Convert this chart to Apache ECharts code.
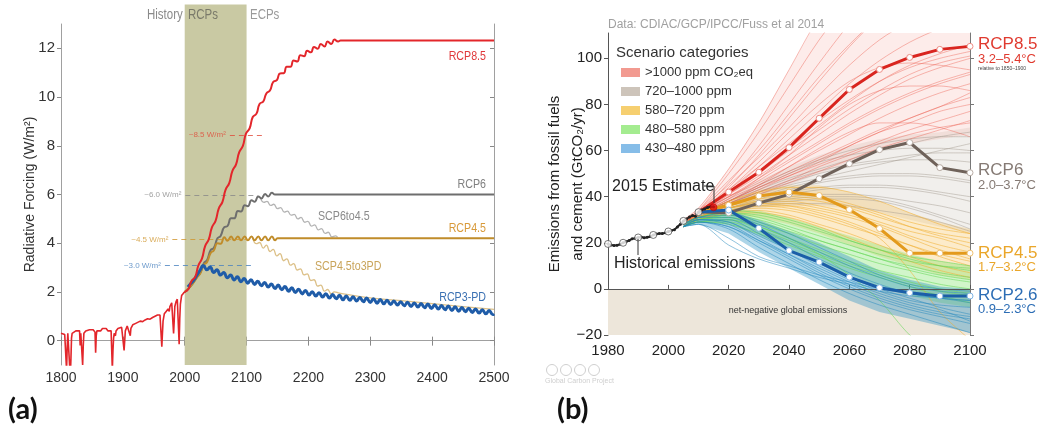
<!DOCTYPE html>
<html><head><meta charset="utf-8">
<script src="https://cdn.jsdelivr.net/npm/echarts@6/dist/echarts.min.js"></script>
<style>html,body{margin:0;padding:0;background:#fff}#c{width:1038px;height:428px}</style>
</head><body><div id="c"></div>
<script>
// ---------- Panel (a): radiative forcing ----------
const rcpPeriod = [2000, 2100];
const aYTicks = [0, 2, 4, 6, 8, 10, 12];
const rcp85Hist = [[1800,0.30],[1803,0.32],[1806,0.25],[1808,0.3],[1809,-1.2],[1810,-0.3],[1811,0.3],[1813,0.28],[1815,-1.5],[1816,-0.8],[1817,0.1],[1818,0.3],[1821,0.35],[1824,0.4],[1827,0.35],[1830,0.4],[1831,-0.2],[1832,0.3],[1834,0.35],[1835,-1.0],[1836,-0.2],[1837,0.3],[1840,0.4],[1843,0.35],[1846,0.45],[1849,0.4],[1852,0.45],[1855,0.35],[1856,-0.5],[1857,0.2],[1858,0.4],[1861,0.45],[1864,0.4],[1867,0.5],[1870,0.45],[1873,0.5],[1876,0.4],[1879,0.45],[1881,0.4],[1883,-1.2],[1884,-0.4],[1885,0.1],[1886,0.3],[1888,0.2],[1889,0.4],[1892,0.5],[1895,0.45],[1898,0.55],[1900,0.5],[1902,-0.4],[1903,0.0],[1904,0.4],[1907,0.6],[1910,0.55],[1912,0.2],[1913,0.5],[1916,0.65],[1920,0.7],[1924,0.75],[1928,0.8],[1932,0.78],[1936,0.85],[1940,0.9],[1944,0.88],[1948,0.95],[1952,1.0],[1956,1.05],[1960,1.05],[1962,1.0],[1963,-0.25],[1964,0.3],[1965,0.8],[1967,1.1],[1970,1.2],[1973,1.3],[1975,1.2],[1976,1.4],[1979,1.55],[1981,1.6],[1982,0.3],[1983,0.8],[1984,1.4],[1986,1.6],[1988,1.7],[1990,1.75],[1991,-0.15],[1992,0.9],[1993,1.5],[1995,1.85],[1998,1.95],[2000,2.0]];
const rcp85Future = [[2000,2.00],[2006,2.12],[2011,2.45],[2017,2.62],[2022,3.08],[2028,3.38],[2033,3.88],[2039,4.17],[2044,4.65],[2050,4.93],[2055,5.42],[2061,5.70],[2066,6.19],[2072,6.47],[2077,6.96],[2083,7.24],[2088,7.73],[2094,8.00],[2099,8.50],[2105,8.72],[2110,9.18],[2116,9.32],[2121,9.72],[2127,9.82],[2132,10.15],[2138,10.28],[2143,10.62],[2149,10.70],[2154,10.97],[2160,10.98],[2165,11.25],[2171,11.25],[2176,11.50],[2182,11.46],[2187,11.72],[2193,11.68],[2198,11.90],[2204,11.84],[2209,12.06],[2215,11.98],[2220,12.18],[2226,12.08],[2231,12.28],[2237,12.18],[2242,12.36],[2248,12.28],[2252,12.32],[2500,12.32]];
const rcp6 = [[2000,2.0],[2010,2.25],[2020,2.62],[2025,2.78],[2031,3.18],[2036,3.30],[2042,3.72],[2047,3.80],[2053,4.20],[2058,4.30],[2064,4.66],[2069,4.70],[2075,5.02],[2080,5.02],[2086,5.32],[2091,5.30],[2097,5.56],[2102,5.52],[2108,5.76],[2113,5.70],[2119,5.92],[2124,5.84],[2130,6.02],[2135,5.92],[2141,6.07],[2146,6.0],[2500,6.0]];
const scp6to45 = [[2122,5.90],[2128,5.68],[2133,5.72],[2139,5.55],[2144,5.60],[2150,5.42],[2155,5.46],[2161,5.28],[2166,5.32],[2172,5.15],[2177,5.18],[2183,5.00],[2188,5.06],[2194,4.86],[2199,4.90],[2205,4.70],[2210,4.75],[2216,4.55],[2221,4.60],[2227,4.40],[2232,4.45],[2238,4.26],[2244,4.30],[2247,4.24]];
const rcp45 = [[2000,2.0],[2010,2.25],[2020,2.6],[2025,2.76],[2031,3.12],[2036,3.22],[2042,3.60],[2047,3.70],[2053,4.0],[2058,3.98],[2064,4.25],[2069,4.10],[2075,4.28],[2080,4.12],[2086,4.28],[2091,4.12],[2097,4.28],[2102,4.12],[2108,4.28],[2113,4.12],[2119,4.28],[2124,4.12],[2130,4.28],[2135,4.12],[2141,4.28],[2146,4.12],[2150,4.2],[2500,4.2]];
const scp45to3pd = [[2110,4.20],[2116,3.98],[2121,4.03],[2127,3.80],[2132,3.92],[2138,3.66],[2143,3.75],[2149,3.48],[2154,3.57],[2160,3.28],[2165,3.36],[2171,3.10],[2176,3.16],[2182,2.90],[2187,2.95],[2193,2.70],[2198,2.74],[2204,2.47],[2209,2.50],[2215,2.24],[2220,2.28],[2226,2.03],[2231,2.10],[2237,1.92],[2242,2.00],[2250,1.95],[2300,1.76],[2350,1.64],[2400,1.52],[2450,1.40],[2500,1.28]];
const rcp3pd = [[2005,2.2],[2010,2.35],[2015,2.5],[2020,2.7],[2025,2.9],[2030,3.08],[2036,2.91],[2041,3.02],[2047,2.80],[2052,2.91],[2058,2.69],[2063,2.80],[2069,2.58],[2074,2.69],[2080,2.49],[2085,2.62],[2091,2.42],[2096,2.55],[2102,2.36],[2107,2.50],[2113,2.31],[2118,2.44],[2124,2.25],[2129,2.39],[2135,2.20],[2140,2.33],[2146,2.14],[2151,2.28],[2157,2.09],[2162,2.22],[2168,2.03],[2173,2.17],[2179,1.98],[2184,2.11],[2190,1.92],[2195,2.06],[2201,1.87],[2206,2.01],[2212,1.83],[2217,1.97],[2223,1.79],[2228,1.93],[2234,1.75],[2239,1.89],[2245,1.72],[2250,1.86],[2256,1.68],[2261,1.83],[2267,1.66],[2272,1.80],[2278,1.63],[2283,1.77],[2289,1.60],[2294,1.75],[2300,1.57],[2305,1.72],[2311,1.54],[2316,1.69],[2322,1.51],[2327,1.66],[2333,1.48],[2338,1.63],[2344,1.46],[2349,1.60],[2355,1.43],[2360,1.58],[2366,1.40],[2371,1.55],[2377,1.38],[2382,1.52],[2388,1.35],[2393,1.50],[2399,1.32],[2404,1.47],[2410,1.30],[2415,1.44],[2421,1.27],[2426,1.42],[2432,1.24],[2437,1.39],[2443,1.21],[2448,1.36],[2454,1.19],[2459,1.33],[2465,1.16],[2470,1.30],[2476,1.13],[2481,1.27],[2487,1.10],[2492,1.24],[2498,1.07],[2500,1.10]];
// dashed reference levels: [label, value, fromYear, toYear, colour]
const refLevels = [['~8.5 W/m²',8.45,2073,2127,'#e04a3a'],['~6.0 W/m²',5.97,2001,2118,'#888888'],['~4.5 W/m²',4.15,1980,2105,'#d0962e'],['~3.0 W/m²',3.08,1968,2110,'#4a82bf']];

// ---------- Panel (b): emissions ----------
const bYTicks = [-20, 0, 20, 40, 60, 80, 100];
const histYears = [1980,1981,1982,1983,1984,1985,1986,1987,1988,1989,1990,1991,1992,1993,1994,1995,1996,1997,1998,1999,2000,2001,2002,2003,2004,2005,2006,2007,2008,2009,2010,2011,2012,2013,2014,2015];
const histValues = [19.5,19.0,18.8,18.9,19.4,20.0,20.5,21.0,21.7,22.0,22.3,22.5,22.2,22.4,22.7,23.4,23.8,24.0,24.0,24.3,24.9,25.3,25.7,26.9,28.0,29.5,30.3,31.2,31.8,31.5,33.3,34.2,34.7,35.3,35.6,35.6];
const histMarkerYears = [1980,1985,1990,1995,2000,2005,2010];
const estimate2015 = [2015, 35.4];
const rcpYears = [2010,2020,2030,2040,2050,2060,2070,2080,2090,2100];
const bRcp85 = [33.3,42,50.6,61.3,74,86.5,95.2,100.4,103.9,105.2];
const bRcp6  = [33.3,33,37.2,41,47.8,54.3,60.4,63.5,52.6,50.4];
const bRcp45 = [33.3,36.3,40.3,42,40.5,34.4,26.2,15.5,15.5,15.5];
const bRcp26 = [33.3,34.2,26.3,16.6,11.6,5.1,0.5,-1.7,-3.1,-3.1];
const ensYears = [2005,2010,2020,2030,2040,2050,2060,2070,2080,2090,2100];
const redLines = [
 [29,34,50,68,88,108,125,140,150,158,165],[29,33,46,62,80,98,115,130,142,150,155],[28,33,44,58,74,90,105,118,128,135,140],
 [29,34,45,57,70,84,97,108,116,122,126],[28,32,42,53,65,77,89,99,107,113,118],[29,33,42,51,61,71,81,90,97,102,106],
 [28,33,41,49,58,67,76,84,91,96,100],[28,32,40,47,55,63,71,78,84,89,93],[29,33,40,46,53,60,67,74,80,85,89],
 [28,32,39,45,51,57,63,69,74,79,83],[28,32,38,44,50,56,62,68,74,79,85],[27,31,37,43,49,54,59,64,69,73,77],
 [28,32,38,45,53,61,68,72,72,70,66],[28,32,37,42,47,53,58,63,67,70,72],[28,32,39,48,58,70,80,86,88,88,86],
 [29,33,43,55,68,80,90,96,98,97,95],[28,32,38,44,49,55,62,68,72,77,80],[27,31,36,41,46,51,56,61,65,69,73],
 [28,33,40,48,56,64,72,79,85,90,94],[29,34,47,60,76,92,106,118,126,132,136],[30,35,52,72,95,118,135,150,160,165,170],
 [28,33,43,53,63,73,82,90,96,100,103],[28,32,41,50,60,69,78,86,93,98,101]];
const grayLines = [
 [28,32,38,44,50,55,58,60,61,61,60],[28,32,37,42,46,50,53,55,56,56,55],[28,31,36,40,44,47,49,50,50,49,47],
 [27,31,35,39,42,44,45,45,44,42,40],[28,32,37,41,45,48,51,54,57,60,63],[28,32,38,43,48,52,56,60,63,66,68],
 [27,31,35,38,40,41,41,40,38,36,33],[28,31,35,38,41,43,44,44,43,41,38],[28,32,36,40,43,46,48,49,49,48,46],
 [27,31,34,37,39,40,40,39,36,32,28],[28,32,37,42,47,51,54,56,58,59,59],[28,31,35,37,38,39,39,38,35,31,26],
 [28,32,38,45,51,56,60,63,65,66,66],[27,31,34,36,37,37,36,34,32,29,25]];
const orangeLines = [
 [28,32,38,42,44,44,42,38,33,28,24],[28,31,36,39,40,39,36,32,27,23,20],[27,31,35,37,37,35,32,28,23,19,16],
 [28,32,36,38,38,36,33,29,25,22,18],[27,30,34,35,34,31,27,23,19,15,12],[28,31,35,37,36,33,29,24,19,14,10],
 [27,30,33,34,32,28,24,19,14,10,7],[28,31,35,36,35,32,28,22,8,-10,-22],[28,32,37,40,41,40,37,33,29,26,24],
 [27,30,33,33,31,27,22,17,12,8,5],[27,31,35,38,39,38,35,31,27,24,22],[28,31,34,36,36,34,31,27,22,17,13]];
const greenLines = [
 [28,31,34,33,30,26,21,17,13,10,8],[28,30,32,30,26,21,17,13,10,7,5],[27,30,31,28,24,19,15,11,8,5,3],
 [27,29,30,27,22,17,12,8,5,2,0],[28,31,33,31,27,23,19,15,12,10,9],[27,29,29,25,20,15,10,6,2,-1,-3],
 [27,29,28,24,19,14,9,5,1,-3,-6],[28,30,31,27,22,15,6,-5,-20,-30,-35],[27,30,32,29,25,21,17,13,9,6,4],
 [28,31,33,32,29,25,21,17,14,12,10],[27,29,30,26,21,16,11,7,3,0,-2]];
const blueLines = [
 [28,31,32,28,22,16,10,5,1,-1,-2],[28,31,31,26,20,13,7,2,-2,-4,-5],[27,30,30,24,17,10,4,-1,-5,-7,-8],
 [27,30,29,22,15,8,2,-3,-7,-10,-12],[27,29,27,20,13,6,0,-5,-9,-12,-15],[27,29,26,18,11,4,-2,-7,-11,-15,-19],
 [28,31,33,29,24,18,12,6,2,0,-1],[27,30,28,21,14,7,1,-4,-8,-11,-13],[27,28,22,14,10,6,3,0,-2,-4,-5],
 [27,28,19,13,9,5,2,-1,-3,-4,-6],[28,30,29,23,17,11,5,0,-4,-8,-11],[27,29,27,21,15,9,3,-2,-6,-9,-14]];
const bandRed    = {lo:[27,31,36,40,45,50,55,60,63,65,67], hi:[30,35,52,72,95,118,135,150,160,165,170]};
const bandGray   = {lo:[27,30,33,35,36,36,35,33,30,27,24], hi:[29,33,40,47,53,58,62,65,67,68,70]};
const bandOrange = {lo:[27,30,32,31,28,24,19,14,10,6,4], hi:[29,33,38,43,45,45,42,38,33,29,26]};
const bandGreen  = {lo:[27,29,28,23,17,11,6,1,-3,-6,-8], hi:[29,32,35,34,31,27,23,19,15,12,10]};
const bandBlue   = {lo:[27,28,24,16,9,2,-5,-10,-13,-16,-19], hi:[29,32,34,30,25,20,14,8,4,1,0]};
const catNames = ['>1000 ppm CO₂eq','720–1000 ppm','580–720 ppm','480–580 ppm','430–480 ppm'];

const SANS = '"Liberation Sans",Arial,sans-serif';
const NARROW = SANS;

const chart = echarts.init(document.getElementById('c'), null, {renderer:'canvas'});
const pair = (xs, ys) => xs.map((x,i)=>[x, ys[i]]);
const plain = v => String(v);

const series = [];
// Panel a: RCP band (extends above plot)
series.push({type:'custom', xAxisIndex:0, yAxisIndex:0, z:1, silent:true, clip:false,
  data:[[rcpPeriod[0], rcpPeriod[1]]],
  renderItem(params, api){
    const p1 = api.coord([rcpPeriod[0], 13.8]);
    const p2 = api.coord([rcpPeriod[1], -1]);
    return {type:'rect', shape:{x:p1[0], y:p1[1], width:p2[0]-p1[0], height:p2[1]-p1[1]}, style:{fill:'#c9c9a3'}};
  }});
function aLine(data, color, width, smooth, z, extra){
  return Object.assign({type:'line', xAxisIndex:0, yAxisIndex:0, data, symbol:'none', smooth, z, silent:true,
    lineStyle:{color, width}, itemStyle:{color}}, extra||{});
}
function refLine(r){
  return {silent:true, symbol:'none', animation:false,
    lineStyle:{type:[5,4], color:r[4], width:1, opacity:0.8},
    label:{show:true, position:'start', formatter:r[0], color:r[4], fontSize:8, fontFamily:NARROW, distance:4},
    data:[[{coord:[r[2], r[1]]},{coord:[r[3], r[1]]}]]};
}
series.push(aLine(scp6to45, '#b4b4b4', 1.3, 0.5, 3));
series.push(aLine(scp45to3pd, '#dcc088', 1.3, 0.5, 3));
series.push(aLine(rcp6, '#6e6e6e', 2, 0.5, 4, {markLine:refLine(refLevels[1])}));
series.push(aLine(rcp45, '#c08c2a', 2, 0.5, 4, {markLine:refLine(refLevels[2])}));
series.push(aLine(rcp3pd, '#1f5ca8', 3, 0.5, 5, {markLine:refLine(refLevels[3])}));
series.push(aLine(rcp85Hist, '#e3262b', 1.6, false, 6));
series.push(aLine(rcp85Future, '#e3262b', 2, 0.5, 6, {markLine:refLine(refLevels[0])}));

// Panel b
series.push({type:'line', xAxisIndex:2, yAxisIndex:2, data:[], silent:true,
  markArea:{silent:true, itemStyle:{color:'#ede6da'}, data:[[{yAxis:-20},{yAxis:0}]]},
  markLine:{silent:true, symbol:'none', lineStyle:{color:'#555', width:1, type:'solid'}, label:{show:false}, data:[{yAxis:0}]}});
function band(name, b, color){
  return {type:'custom', name, xAxisIndex:2, yAxisIndex:2, z:1, silent:true, clip:true,
    itemStyle:{color}, data:[[ensYears[0], b.lo[0]]],
    renderItem(params, api){
      const pts=[];
      for(let i=0;i<ensYears.length;i++) pts.push(api.coord([ensYears[i], b.hi[i]]));
      for(let i=ensYears.length-1;i>=0;i--) pts.push(api.coord([ensYears[i], b.lo[i]]));
      return {type:'polygon', shape:{points:pts}, style:{fill:color}};
    }};
}
series.push(band(catNames[1], bandGray, 'rgba(190,180,170,0.22)'));
series.push(band(catNames[0], bandRed, 'rgba(240,120,105,0.14)'));
series.push(band(catNames[2], bandOrange, 'rgba(245,190,80,0.30)'));
series.push(band(catNames[3], bandGreen, 'rgba(120,225,100,0.34)'));
series.push(band(catNames[4], bandBlue, 'rgba(40,145,195,0.38)'));
function ens(lines, color, z){
  lines.forEach(v=>series.push({type:'line', xAxisIndex:2, yAxisIndex:2, z, silent:true, symbol:'none', smooth:0.3,
    data:pair(ensYears, v), lineStyle:{color, width:1}}));
}
ens(grayLines, 'rgba(160,150,140,0.45)', 2);
ens(redLines, 'rgba(235,85,70,0.40)', 2);
ens(orangeLines, 'rgba(240,175,50,0.55)', 2);
ens(greenLines, 'rgba(100,215,85,0.55)', 2);
ens(blueLines, 'rgba(35,135,190,0.50)', 2);
function rcpB(vals, color, border){
  const d = pair(rcpYears, vals).map((p,i)=> i===0 ? {value:p, symbol:'none'} : {value:p});
  return {type:'line', xAxisIndex:2, yAxisIndex:2, z:6, silent:true, data:d, symbol:'circle', symbolSize:6, showSymbol:true,
    lineStyle:{color, width:3}, itemStyle:{color:'#fff', borderColor:border, borderWidth:1}};
}
series.push(rcpB(bRcp6, '#6f625a', '#b8aca4'));
series.push(rcpB(bRcp45, '#e39a1c', '#eec070'));
series.push(rcpB(bRcp26, '#1b5ea8', '#7fb4e4'));
series.push(rcpB(bRcp85, '#d9251f', '#ee8c84'));
series.push({type:'line', xAxisIndex:2, yAxisIndex:2, z:7, silent:true, data:pair(histYears, histValues),
  symbol:'circle', symbolSize:3, lineStyle:{color:'#222', width:2}, itemStyle:{color:'#222'}});
series.push({type:'scatter', xAxisIndex:2, yAxisIndex:2, z:8, silent:true,
  data:histMarkerYears.map(y=>[y, histValues[histYears.indexOf(y)]]), symbolSize:7,
  itemStyle:{color:'#fff', borderColor:'#555', borderWidth:1}});
series.push({type:'scatter', xAxisIndex:2, yAxisIndex:2, z:8, silent:true, data:[estimate2015], symbolSize:7,
  itemStyle:{color:'#e01010', borderColor:'#a00', borderWidth:0.5}});

const axA = {min:1800, max:2500, interval:100};
const txt = (x,y,text,o,extra)=>Object.assign({type:'text', x, y, z:100, silent:true, style:Object.assign({text, fill:'#333', font:'13px '+SANS, textVerticalAlign:'middle'}, o||{})}, extra||{});
const narrowTxt = (x,y,text,o)=>txt(x,y,text,o,{scaleX:0.82});
const ccIcon = cx => ({type:'circle', silent:true, z:100, shape:{cx, cy:370, r:5.5}, style:{fill:null, stroke:'#cfcfcf', lineWidth:1}});

chart.setOption({
  animation:false,
  grid:[{left:61, right:544, top:24, bottom:63, show:false},{left:608, right:68, top:33, bottom:93, show:false}],
  xAxis:[
    Object.assign({type:'value', gridIndex:0, position:'bottom', axisLine:{lineStyle:{color:'#a0a0a0'}}, axisTick:{inside:true, length:4, lineStyle:{color:'#888'}},
      axisLabel:{color:'#333', fontSize:14, fontFamily:NARROW, margin:6, formatter:plain}, splitLine:{show:false}}, axA),
    Object.assign({type:'value', gridIndex:0, position:'top', axisLine:{lineStyle:{color:'#a0a0a0'}}, axisTick:{inside:true, length:5, lineStyle:{color:'#888'}},
      axisLabel:{show:false}, splitLine:{show:false}}, axA),
    {type:'value', gridIndex:1, position:'bottom', min:1980, max:2100, interval:20, axisLine:{lineStyle:{color:'#555'}},
      axisTick:{inside:true, length:4, lineStyle:{color:'#555'}}, axisLabel:{color:'#222', fontSize:15, fontFamily:SANS, margin:8, formatter:plain}, splitLine:{show:false}},
    {type:'value', gridIndex:1, position:'top', min:1980, max:2100, interval:20, axisLine:{lineStyle:{color:'#777'}},
      axisTick:{inside:true, length:4, lineStyle:{color:'#777'}}, axisLabel:{show:false}, splitLine:{show:false}}
  ],
  yAxis:[
    {type:'value', gridIndex:0, min:-1, max:13, axisLine:{show:true, lineStyle:{color:'#a0a0a0'}},
      axisTick:{show:true, length:4, customValues:aYTicks, lineStyle:{color:'#888'}},
      axisLabel:{customValues:aYTicks, color:'#333', fontSize:15, fontFamily:NARROW, margin:6, formatter:plain}, splitLine:{show:false},
      name:'Radiative Forcing (W/m²)', nameLocation:'middle', nameGap:24, nameRotate:90, nameMoveOverlap:false,
      nameTextStyle:{color:'#333', fontSize:14, fontFamily:NARROW}},
    {type:'value', gridIndex:0, position:'right', min:-1, max:13, axisLine:{show:true, lineStyle:{color:'#a0a0a0'}},
      axisTick:{show:true, inside:true, length:4, customValues:aYTicks, lineStyle:{color:'#888'}},
      axisLabel:{show:false, customValues:aYTicks}, splitLine:{show:false}},
    {type:'value', gridIndex:1, min:-20, max:111, axisLine:{show:true, lineStyle:{color:'#555'}},
      axisTick:{show:true, length:4, customValues:bYTicks, lineStyle:{color:'#555'}},
      axisLabel:{customValues:bYTicks, color:'#222', fontSize:15, fontFamily:SANS, margin:6, formatter:v=>String(v).replace('-','−')}, splitLine:{show:false},
      name:'Emissions from fossil fuels\nand cement (GtCO₂/yr)', nameLocation:'middle', nameGap:19, nameRotate:90, nameMoveOverlap:false,
      nameTextStyle:{color:'#222', fontSize:15, fontFamily:SANS, lineHeight:23}},
    {type:'value', gridIndex:1, position:'right', min:-20, max:111, axisLine:{show:true, lineStyle:{color:'#777'}},
      axisTick:{show:true, length:4, customValues:bYTicks, lineStyle:{color:'#777'}},
      axisLabel:{show:false, customValues:bYTicks}, splitLine:{show:false}}
  ],
  legend:{show:true, left:616, top:61, orient:'vertical', itemWidth:19, itemHeight:9, itemGap:6, selectedMode:false,
    icon:'rect', textStyle:{color:'#333', fontSize:13, fontFamily:SANS, lineHeight:10},
    data:[
      {name:catNames[0], itemStyle:{color:'#f29a90'}},
      {name:catNames[1], itemStyle:{color:'#cdc4ba'}},
      {name:catNames[2], itemStyle:{color:'#f6cf70'}},
      {name:catNames[3], itemStyle:{color:'#a4ec90'}},
      {name:catNames[4], itemStyle:{color:'#86bde8'}}]},
  series,
  graphic:[
    narrowTxt(147,15,'History',{fill:'#8a8a8a', font:'14px '+SANS}),
    narrowTxt(188,15,'RCPs',{fill:'#7a7a6a', font:'14px '+SANS}),
    narrowTxt(250,15,'ECPs',{fill:'#9a9a9a', font:'14px '+SANS}),
    narrowTxt(486,56,'RCP8.5',{fill:'#e0383a', font:'13px '+SANS, textAlign:'right'}),
    narrowTxt(486,184,'RCP6',{fill:'#808080', font:'13px '+SANS, textAlign:'right'}),
    narrowTxt(486,228,'RCP4.5',{fill:'#d89a3a', font:'13px '+SANS, textAlign:'right'}),
    narrowTxt(486,297,'RCP3-PD',{fill:'#3a70b2', font:'13px '+SANS, textAlign:'right'}),
    narrowTxt(318,216,'SCP6to4.5',{fill:'#8a8a8a', font:'13px '+SANS}),
    narrowTxt(315,266,'SCP4.5to3PD',{fill:'#c9a45a', font:'13px '+SANS}),
    txt(8,410,'(a)',{fill:'#111', font:'bold 29px Lato, "Open Sans", sans-serif'}),
    txt(557,410,'(b)',{fill:'#111', font:'bold 29px Lato, "Open Sans", sans-serif'}),
    txt(608,25,'Data: CDIAC/GCP/IPCC/Fuss et al 2014',{fill:'#a0a0a0', font:'12px '+SANS}),
    txt(616,53,'Scenario categories',{fill:'#333', font:'15px '+SANS}),
    txt(612,187,'2015 Estimate',{fill:'#222', font:'16px '+SANS}),
    txt(614,264,'Historical emissions',{fill:'#222', font:'16px '+SANS}),
    {type:'polyline', silent:true, z:100, shape:{points:[[704,186],[714,186],[714,203]]}, style:{stroke:'#333', lineWidth:1, fill:null}},
    {type:'line', silent:true, z:100, shape:{x1:638, y1:239, x2:638, y2:255}, style:{stroke:'#333', lineWidth:1}},
    txt(788,311,'net-negative global emissions',{fill:'#333', font:'9px '+SANS, textAlign:'center'}),
    txt(978,44,'RCP8.5',{fill:'#e03a2f', font:'17px '+SANS}),
    txt(978,59,'3.2–5.4°C',{fill:'#e03a2f', font:'13px '+SANS}),
    txt(978,69,'relative to 1850–1900',{fill:'#444', font:'5px '+SANS}),
    txt(978,170,'RCP6',{fill:'#857a74', font:'17px '+SANS}),
    txt(978,185,'2.0–3.7°C',{fill:'#857a74', font:'13px '+SANS}),
    txt(978,253,'RCP4.5',{fill:'#eaa62a', font:'17px '+SANS}),
    txt(978,267,'1.7–3.2°C',{fill:'#eaa62a', font:'13px '+SANS}),
    txt(978,295,'RCP2.6',{fill:'#2c6db5', font:'17px '+SANS}),
    txt(978,309,'0.9–2.3°C',{fill:'#2c6db5', font:'13px '+SANS}),
    ccIcon(552), ccIcon(566), ccIcon(580), ccIcon(594),
    txt(545,381,'Global Carbon Project',{fill:'#cfcfcf', font:'7px '+SANS})
  ]
});
</script></body></html>
